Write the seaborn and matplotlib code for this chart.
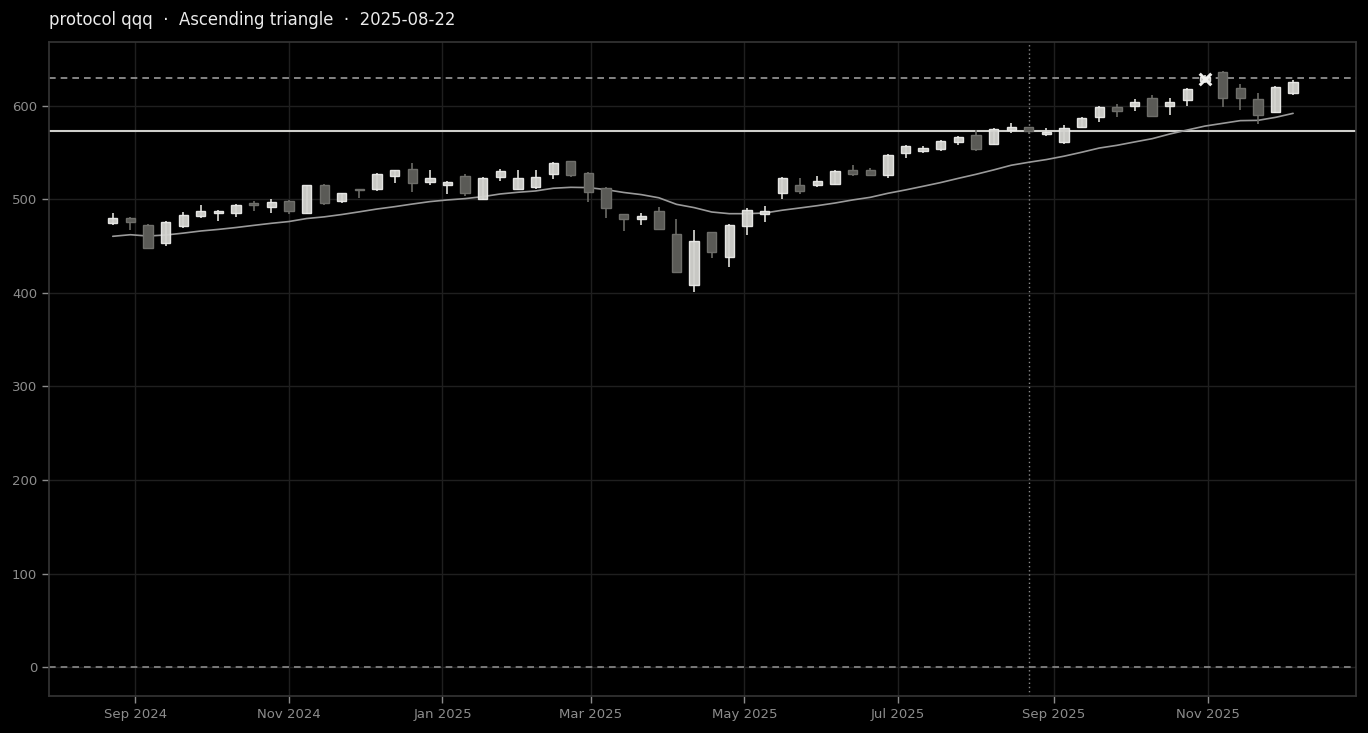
import matplotlib
matplotlib.use("Agg")
import matplotlib.pyplot as plt
import matplotlib.dates as mdates
import pandas as pd
import seaborn as sns

# Weekly candles (Fridays)
dates = pd.date_range("2024-08-23", periods=68, freq="7D")

opens = [475, 480, 473, 453, 472, 482, 485, 485, 496, 492, 498, 486, 516, 498, 511, 511,
         525, 533, 519, 515, 525, 501, 524, 511, 513, 527, 541, 528, 512, 484, 479, 488,
         463, 408, 465, 438, 472, 484, 507, 515, 516, 517, 531, 531, 526, 550, 552, 554,
         561, 569, 559, 574, 577, 570, 561, 578, 588, 599, 600, 609, 600, 606, 627, 636,
         619, 607, 594, 614]
highs = [485, 481, 474, 477, 487, 494, 489, 495, 498, 500, 499, 516, 517, 507, 511, 528,
         532, 539, 531, 520, 527, 524, 533, 531, 531, 540, 541, 529, 513, 484, 485, 492,
         479, 467, 465, 474, 491, 493, 524, 523, 525, 532, 537, 534, 549, 558, 557, 564,
         568, 574, 576, 582, 578, 576, 580, 588, 600, 602, 607, 612, 608, 619, 633, 637,
         624, 614, 621, 628]
lows = [473, 467, 447, 450, 469, 480, 477, 481, 488, 485, 484, 484, 494, 496, 502, 509,
        518, 508, 515, 506, 504, 499, 520, 510, 511, 522, 524, 497, 480, 466, 473, 467,
        421, 401, 437, 428, 462, 476, 501, 506, 513, 515, 525, 525, 523, 544, 550, 552,
        558, 552, 558, 571, 570, 568, 559, 576, 583, 588, 595, 588, 590, 600, 625, 599,
        596, 581, 593, 612]
closes = [480, 476, 448, 476, 483, 488, 488, 494, 494, 497, 488, 515, 496, 507, 510, 527,
          531, 518, 523, 519, 507, 523, 530, 523, 524, 539, 526, 508, 491, 479, 482, 468,
          422, 456, 444, 473, 489, 488, 523, 509, 520, 530, 527, 526, 548, 557, 555, 562,
          567, 554, 575, 578, 573, 572, 576, 587, 599, 595, 604, 589, 604, 618, 631, 609,
          608, 590, 620, 626]
moving_avg = [460.6, 462.3, 460.9, 462.0, 464.0, 466.3, 468.0, 470.0, 472.3, 474.5, 476.4,
              479.6, 481.4, 483.9, 486.8, 489.8, 492.3, 495.1, 497.7, 499.5, 500.9, 503.0,
              505.9, 507.7, 509.1, 512.0, 513.0, 512.7, 510.5, 507.5, 505.2, 501.8, 494.8,
              491.3, 486.6, 484.8, 484.8, 485.5, 488.5, 490.9, 493.4, 496.2, 499.5, 502.3,
              506.6, 510.2, 514.1, 518.1, 522.6, 526.9, 531.6, 536.6, 539.8, 542.7, 546.3,
              550.5, 555.0, 557.9, 561.5, 565.0, 570.0, 574.3, 578.5, 581.4, 584.3, 584.6,
              587.8, 592.1]

resistance = 630
breakout_level = 573
baseline = 0
pattern_date = pd.Timestamp("2025-08-22")
marker_date = dates[62]
marker_value = 629

df = pd.DataFrame({"date": dates, "open": opens, "high": highs, "low": lows,
                   "close": closes, "ma": moving_avg})
up = df[df["close"] >= df["open"]]
down = df[df["close"] < df["open"]]

sns.set_theme(style="dark", rc={
    "figure.facecolor": "black", "axes.facecolor": "black",
    "axes.edgecolor": "#333333", "grid.color": "#1f1f1f",
    "xtick.color": "#8c8c8c", "ytick.color": "#8c8c8c",
    "axes.grid": True,
})
plt.rcParams["font.family"] = ["DejaVu Sans"]

fig = plt.figure(figsize=(13.68, 7.33), dpi=100)
ax = fig.add_axes([49 / 1368, 1 - 696 / 733, (1356 - 49) / 1368, (696 - 42) / 733])

# reference lines
ax.axhline(resistance, color="#9a9a9a", lw=1.2, ls=(0, (4, 3)), zorder=1)
ax.axhline(breakout_level, color="#cfcfcb", lw=1.5, zorder=1)
ax.axhline(baseline, color="#8a8a8a", lw=1.2, ls=(0, (4, 3)), zorder=1)
ax.axvline(pattern_date, color="#8a8a8a", lw=1.0, ls=(0, (1, 2)), zorder=1)

# moving average
sns.lineplot(data=df, x="date", y="ma", ax=ax, color="#9a9a9a", lw=1.2, zorder=2)

# candles
w = 3.7
ax.vlines(down["date"], down["low"], down["high"], color="#6a6a66", lw=1.2, zorder=3)
ax.bar(down["date"], down["open"] - down["close"], bottom=down["close"], width=w,
       color="#5a5a56", edgecolor="#6e6e6a", lw=1, zorder=4)
ax.vlines(up["date"], up["low"], up["high"], color="#dcdcd8", lw=1.2, zorder=3)
ax.bar(up["date"], up["close"] - up["open"], bottom=up["open"], width=w,
       color="#d4d4d0", edgecolor="#ececea", lw=1, alpha=0.95, zorder=4)

ax.scatter([marker_date], [marker_value], marker="x", s=70, color="#f0f0ee",
           linewidths=2.2, zorder=6)

ax.set_xlim(pd.Timestamp("2024-07-28 16:00"), pd.Timestamp("2025-12-30"))
ax.set_ylim(-31, 668.4)
ax.set_yticks([0, 100, 200, 300, 400, 500, 600])
ax.xaxis.set_major_locator(mdates.MonthLocator(bymonth=[1, 3, 5, 7, 9, 11]))
ax.xaxis.set_major_formatter(mdates.DateFormatter("%b %Y"))
ax.tick_params(axis="both", labelsize=9.5, length=5, width=1, color="#8c8c8c",
               bottom=True, left=True)
ax.set_xlabel("")
ax.set_ylabel("")
ax.grid(True, color="#1f1f1f", lw=1)
for s in ax.spines.values():
    s.set_color("#333333")

fig.text(49 / 1368, 1 - 20 / 733, "protocol qqq  ·  Ascending triangle  ·  2025-08-22",
         color="#ebebeb", fontsize=11.9, ha="left", va="center")

fig.savefig("out.png", dpi=100, facecolor="black")
